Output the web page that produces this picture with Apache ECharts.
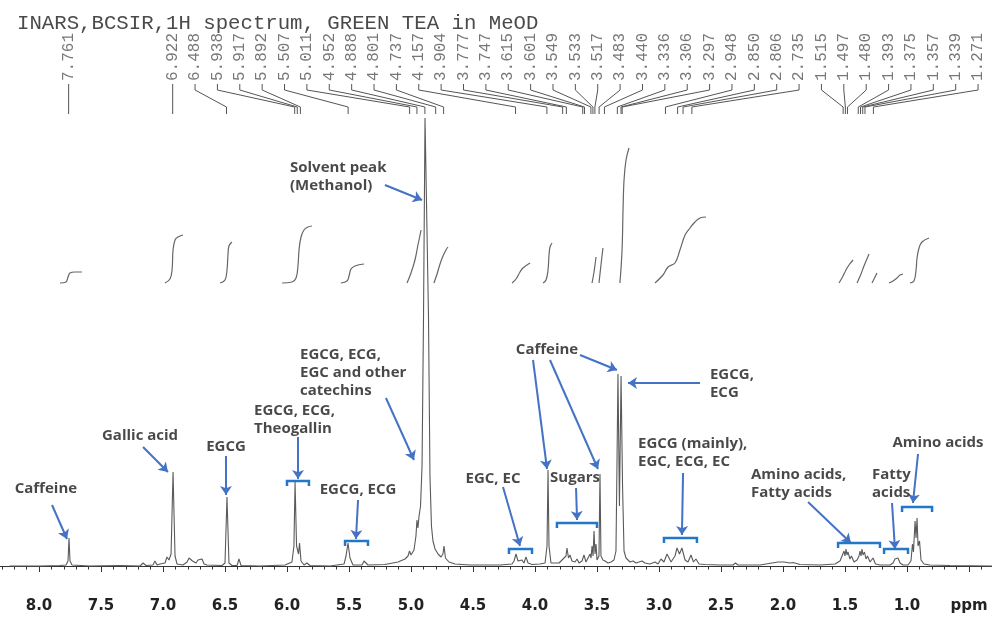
<!DOCTYPE html>
<html><head><meta charset="utf-8">
<script src="https://cdn.jsdelivr.net/npm/echarts@6/dist/echarts.min.js"></script>
<style>html,body{margin:0;padding:0;background:#fff}#c{width:992px;height:617px}</style>
</head><body><div id="c"></div>
<script>
// ---------- DATA ----------
const titleText = 'INARS,BCSIR,1H spectrum, GREEN TEA in MeOD';
const axisTickValues = [8.0, 7.5, 7.0, 6.5, 6.0, 5.5, 5.0, 4.5, 4.0, 3.5, 3.0, 2.5, 2.0, 1.5, 1.0];
const unitLabel = 'ppm';

const peakLabels = [7.761, 6.922, 6.488, 5.938, 5.917, 5.892, 5.507, 5.011, 4.952, 4.888, 4.801, 4.737,
  4.157, 3.904, 3.777, 3.747, 3.615, 3.601, 3.549, 3.533, 3.517, 3.483, 3.440, 3.336, 3.306, 3.297,
  2.948, 2.850, 2.806, 2.735, 1.515, 1.497, 1.480, 1.393, 1.375, 1.357, 1.339, 1.271];

// spectrum trace: [ppm, intensity]
const spectrum = [
 [8.238,0],[7.992,0],[7.831,0.5],[7.782,1],[7.766,5],[7.758,28],[7.750,5],[7.734,1],[7.589,0],[7.347,0.5],
 [7.185,0],[7.161,3],[7.137,0.5],[7.081,1],[7.065,5],[7.048,1],[7.024,2],[7.008,0.5],[6.984,3],[6.968,9],
 [6.952,6],[6.935,12],[6.919,94],[6.903,10],[6.887,2],[6.839,1],[6.806,4],[6.790,8],[6.774,9],[6.762,5],
 [6.750,6],[6.734,3],[6.718,6],[6.702,4],[6.685,7],[6.669,2],[6.645,1],[6.524,0.5],[6.500,3],[6.484,69],
 [6.468,3],[6.444,0.5],[6.403,0.5],[6.387,7],[6.371,0.5],[6.218,0],[6.016,1],[5.960,4],[5.944,20],[5.935,84],
 [5.923,20],[5.915,22],[5.907,12],[5.899,23],[5.887,5],[5.863,1],[5.839,3],[5.815,0.5],[5.653,0],[5.540,2],
 [5.524,10],[5.508,23],[5.492,8],[5.468,1],[5.395,1],[5.379,5],[5.363,5],[5.347,1],[5.210,1.5],[5.105,4],
 [5.048,7],[5.024,10],[5.012,15],[5.000,11],[4.976,16],[4.960,30],[4.952,46],[4.944,38],[4.935,50],[4.923,60],
 [4.911,100],[4.899,250],[4.887,448],[4.871,448],[4.859,250],[4.847,90],[4.835,40],[4.823,25],[4.806,17],[4.794,18],
 [4.782,12],[4.758,9],[4.742,12],[4.734,20],[4.722,8],[4.694,4],[4.645,2],[4.524,1],[4.282,1],[4.185,2],
 [4.169,5],[4.153,12],[4.137,5],[4.121,3],[4.105,6],[4.089,3],[4.073,9],[4.056,3],[4.024,1.5],[3.960,2],
 [3.919,3],[3.903,20],[3.895,96],[3.887,20],[3.871,3],[3.839,3],[3.823,5],[3.806,3],[3.782,6],[3.766,4],
 [3.750,10],[3.742,18],[3.730,8],[3.718,11],[3.702,5],[3.677,4],[3.661,7],[3.645,3],[3.621,5],[3.605,11],
 [3.589,4],[3.573,6],[3.556,12],[3.548,8],[3.540,20],[3.532,10],[3.524,35],[3.516,12],[3.508,22],[3.500,6],
 [3.484,10],[3.476,92],[3.468,10],[3.452,6],[3.435,5],[3.411,3],[3.387,4],[3.363,6],[3.347,15],[3.339,100],
 [3.331,192],[3.319,60],[3.306,190],[3.294,80],[3.282,15],[3.266,8],[3.234,4],[3.210,5],[3.185,3],[3.137,5],
 [3.113,3],[3.073,2],[3.032,4],[3.008,2],[2.984,7],[2.960,4],[2.935,12],[2.903,4],[2.871,10],[2.855,18],
 [2.835,12],[2.815,18],[2.790,6],[2.766,4],[2.742,11],[2.722,4],[2.702,7],[2.677,2],[2.629,1.5],[2.508,1],
 [2.403,1],[2.383,3],[2.363,1],[2.185,1],[2.089,3],[2.040,4],[1.992,4],[1.944,3],[1.919,3.5],[1.863,1.5],
 [1.702,1],[1.581,2],[1.540,5],[1.524,10],[1.508,15],[1.500,10],[1.492,17],[1.484,11],[1.476,14],[1.460,7],
 [1.448,10],[1.427,4],[1.403,6],[1.387,10],[1.379,15],[1.371,10],[1.363,17],[1.355,11],[1.343,14],[1.331,7],
 [1.319,10],[1.298,4],[1.274,8],[1.254,2],[1.218,1],[1.137,1],[1.113,3],[1.097,7],[1.085,5],[1.073,8],
 [1.056,3],[1.032,1],[0.992,1],[0.968,5],[0.956,22],[0.948,14],[0.935,45],[0.927,28],[0.919,48],[0.911,20],
 [0.899,25],[0.887,6],[0.863,2],[0.815,1],[0.653,0.5],[0.315,0]
];

// integral curves: [ppm, rise above integral baseline]
const integrals = [
 [[7.831,0],[7.782,1],[7.766,6],[7.750,10],[7.710,11],[7.653,11]],
 [[6.984,0],[6.944,4],[6.927,13],[6.919,33],[6.903,43],[6.879,46],[6.839,48]],
 [[6.540,0],[6.500,3],[6.484,13],[6.476,28],[6.468,37],[6.444,41]],
 [[6.040,0],[5.960,1],[5.927,5],[5.911,18],[5.903,33],[5.887,46],[5.863,53],[5.831,56],[5.798,57]],
 [[5.565,0],[5.516,2],[5.500,7],[5.484,14],[5.452,17],[5.379,19]],
 [[5.032,0],[5.000,10],[4.968,23],[4.944,38],[4.927,48],[4.919,53]],
 [[4.815,0],[4.790,9],[4.766,19],[4.742,27],[4.718,33],[4.702,36]],
 [[4.185,0],[4.153,4],[4.121,11],[4.097,15],[4.040,20]],
 [[3.935,0],[3.911,3],[3.895,13],[3.887,28],[3.879,36],[3.863,40]],
 [[3.540,0],[3.524,11],[3.508,26]],
 [[3.484,0],[3.468,18],[3.452,35]],
 [[3.315,0],[3.298,33],[3.290,73],[3.282,103],[3.266,123],[3.242,135]],
 [[3.032,0],[2.968,8],[2.927,16],[2.871,20],[2.831,33],[2.790,48],[2.750,55],[2.710,61],[2.669,65],[2.621,66]],
 [[1.548,0],[1.516,7],[1.492,13],[1.468,18],[1.435,23]],
 [[1.403,0],[1.371,9],[1.347,17],[1.306,29]],
 [[1.282,0],[1.242,10]],
 [[1.145,0],[1.113,2],[1.081,5],[1.056,8],[1.032,9]],
 [[0.976,0],[0.944,2],[0.927,13],[0.919,25],[0.903,35],[0.879,41],[0.823,45]]
];
const integralBase = 283;

// annotation texts: [text, ppm, intensity, align]
const noteTexts = [
 ['Caffeine', 7.944, 77, 'center'],
 ['Gallic acid', 7.185, 130, 'center'],
 ['EGCG', 6.492, 119, 'center'],
 ['EGCG, ECG,\nTheogallin', 6.266, 146, 'left'],
 ['EGCG, ECG', 5.427, 76, 'center'],
 ['EGCG, ECG,\nEGC and other\ncatechins', 5.895, 193, 'left'],
 ['Solvent peak\n(Methanol)', 5.976, 389, 'left'],
 ['EGC, EC', 4.339, 87, 'center'],
 ['Caffeine', 3.903, 216, 'center'],
 ['EGCG,\nECG', 2.589, 182, 'left'],
 ['Sugars', 3.677, 88, 'center'],
 ['EGCG (mainly),\nEGC, ECG, EC', 3.169, 113, 'left'],
 ['Amino acids,\nFatty acids', 2.258, 82, 'left'],
 ['Fatty\nacids', 1.282, 82, 'left'],
 ['Amino acids', 0.750, 123, 'center']
];
// arrows: [ppmFrom, yFrom, ppmTo, yTo]
const noteArrows = [
 [7.895,61,7.774,27],[7.161,119,6.960,94],[6.492,110,6.492,71],[5.911,129,5.911,87],
 [5.427,66,5.444,27],[5.202,168,4.976,106],[5.210,381,4.911,366],[4.258,79,4.121,20],
 [4.016,206,3.903,97],[3.879,206,3.492,97],[3.637,211,3.339,196],[2.669,183,3.250,183],
 [3.669,78,3.661,46],[2.806,93,2.815,31],[1.798,64,1.452,23],[1.121,63,1.097,17],[0.911,112,0.952,63]
];
// brackets: [ppmLeft, ppmRight, y]
const noteBrackets = [
 [6.000,5.823,85],[5.532,5.347,25],[4.210,4.024,17],[3.823,3.500,43],
 [2.960,2.694,28],[1.556,1.218,23],[1.185,0.992,17],[1.040,0.798,59]
];

// ---------- CHART ----------
const chart = echarts.init(document.getElementById('c'), null, {renderer: 'canvas'});
const blue = '#4472c4', bracketBlue = '#2277c9';

const labelStep = (peakLabels[1] - 0.427) / (peakLabels.length - 2);
const labelPos = peakLabels.map((p, i) => i === 0 ? p : peakLabels[1] - (i - 1) * labelStep);

const series = [];
series.push({
  type: 'line', data: spectrum, showSymbol: false, symbol: 'none', smooth: false,
  lineStyle: {color: '#5a5a5a', width: 1.1}, z: 3, silent: true
});
integrals.forEach(seg => series.push({
  type: 'line', data: seg.map(d => [d[0], integralBase + d[1]]), showSymbol: false, symbol: 'none',
  smooth: 0.4, lineStyle: {color: '#666', width: 1.2}, silent: true
}));
series.push({
  type: 'lines', coordinateSystem: 'cartesian2d', polyline: true, silent: true,
  lineStyle: {color: '#555', width: 1, opacity: 1},
  data: peakLabels.map((p, i) => ({coords: [[labelPos[i], 482], [labelPos[i], 476], [p, 459], [p, 452]]}))
});
series.push({
  type: 'scatter', symbolSize: 0, silent: true,
  data: peakLabels.map((p, i) => ({value: [labelPos[i], 485], name: p.toFixed(3)})),
  label: {show: true, position: 'inside', rotate: 90, align: 'left', verticalAlign: 'middle',
    formatter: d => d.name, fontFamily: 'Liberation Mono', fontSize: 16, color: '#555'}
});
series.push({
  type: 'lines', coordinateSystem: 'cartesian2d', silent: true, symbol: ['none', 'arrow'], symbolSize: 9,
  lineStyle: {color: blue, width: 2, opacity: 1},
  data: noteArrows.map(a => ({coords: [[a[0], a[1]], [a[2], a[3]]]}))
});
series.push({
  type: 'lines', coordinateSystem: 'cartesian2d', polyline: true, silent: true,
  lineStyle: {color: bracketBlue, width: 2.5, opacity: 1},
  data: noteBrackets.map(b => ({coords: [[b[0], b[2] - 5], [b[0], b[2]], [b[1], b[2]], [b[1], b[2] - 5]]}))
});
noteTexts.forEach(t => series.push({
  type: 'scatter', symbolSize: 0, silent: true,
  data: [{value: [t[1], t[2]], name: t[0]}],
  label: {show: true, position: 'inside', align: t[3], verticalAlign: 'middle', formatter: d => d.name,
    fontFamily: 'Open Sans', fontWeight: 'bold', fontSize: 15, lineHeight: 18, color: '#1a1a1a'}
}));

const option = {
  animation: false,
  backgroundColor: '#fff',
  title: {text: titleText, left: 12, top: 8,
    textStyle: {fontFamily: 'Liberation Mono', fontSize: 20.7, fontWeight: 'normal', color: '#4a4a4a'}},
  grid: {left: -23, right: -39, top: 0, bottom: 30, containLabel: false, outerBoundsMode: 'none'},
  xAxis: {
    type: 'value', inverse: true, min: 0, max: 8.5, interval: 0.5,
    axisLine: {lineStyle: {color: '#333', width: 1}},
    axisTick: {length: 6, lineStyle: {color: '#333'}},
    minorTick: {show: true, splitNumber: 5, length: 3.5, lineStyle: {color: '#333'}},
    splitLine: {show: false},
    axisLabel: {margin: 12, fontFamily: 'DejaVu Sans', fontWeight: 'bold', fontSize: 15, color: '#222',
      formatter: v => Math.abs(v - 0.5) < 1e-6 ? unitLabel :
        (axisTickValues.some(t => Math.abs(t - v) < 1e-6) ? v.toFixed(1) : '')}
  },
  yAxis: {type: 'value', min: -21, max: 566, show: false},
  series: series
};
chart.setOption(option);
</script>
</body></html>
